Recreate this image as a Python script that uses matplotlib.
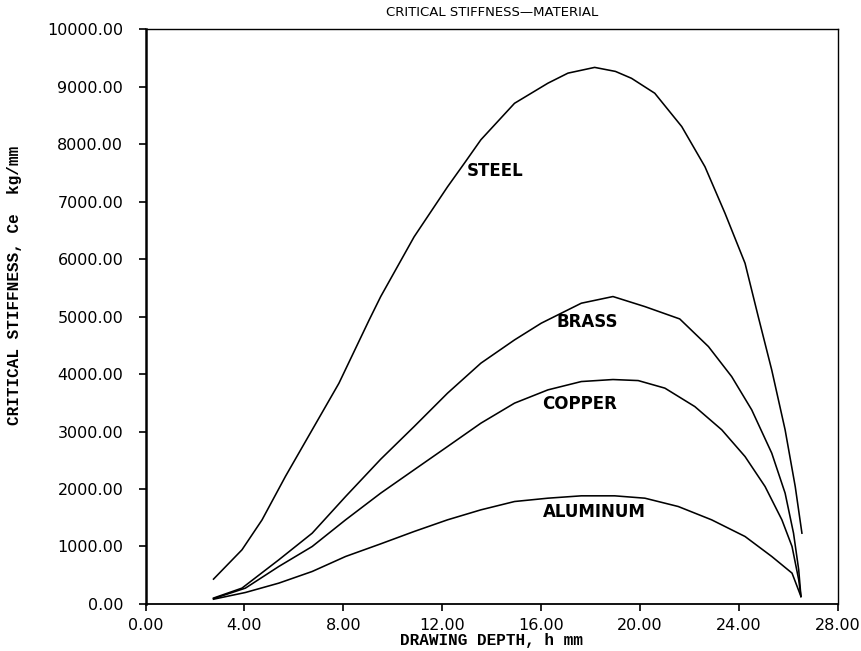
import matplotlib
matplotlib.use("Agg")
import matplotlib.pyplot as plt
from matplotlib.ticker import FixedLocator, FormatStrFormatter

# Critical stiffness vs drawing depth for four sheet materials
steel_h = [2.75, 3.90, 4.71, 5.66, 6.74, 7.82, 9.04, 9.51, 10.86, 12.21, 12.89,
           13.56, 14.92, 16.27, 17.08, 18.16, 19.00, 19.65, 20.59, 21.68, 22.62,
           23.43, 24.24, 24.78, 25.32, 25.86, 26.27, 26.54]
steel_c = [430, 940, 1460, 2220, 3030, 3840, 4940, 5350, 6390, 7260, 7670,
           8080, 8715, 9065, 9240, 9340, 9270, 9150, 8890, 8310, 7610,
           6800, 5930, 4990, 4070, 3030, 2040, 1230]

brass_h = [2.75, 3.90, 5.39, 6.74, 8.09, 9.51, 10.86, 12.21, 13.56, 14.92, 16.00,
           17.62, 18.90, 20.19, 21.60, 22.76, 23.70, 24.51, 25.32, 25.86, 26.20,
           26.41, 26.50]
brass_c = [100, 273, 766, 1230, 1868, 2518, 3086, 3667, 4190, 4595, 4886,
           5234, 5350, 5175, 4960, 4479, 3956, 3377, 2623, 1927, 1230,
           592, 128]

copper_h = [2.75, 4.04, 5.39, 6.74, 8.09, 9.51, 10.86, 12.21, 13.56, 14.92, 16.27,
            17.62, 18.90, 19.92, 21.00, 22.21, 23.30, 24.24, 25.05, 25.73, 26.14,
            26.41, 26.50]
copper_c = [90, 273, 650, 998, 1462, 1927, 2333, 2738, 3145, 3494, 3725,
            3870, 3905, 3887, 3755, 3434, 3029, 2564, 2042, 1462, 998,
            418, 128]

alum_h = [2.75, 4.04, 5.39, 6.74, 8.09, 9.51, 10.86, 12.21, 13.56, 14.92, 16.27,
          17.62, 18.97, 20.19, 21.54, 22.89, 24.24, 25.32, 26.14, 26.50]
alum_c = [80, 197, 360, 563, 824, 1044, 1259, 1462, 1636, 1781, 1839,
          1880, 1880, 1839, 1694, 1462, 1172, 824, 534, 128]

x_ticks = [0, 4, 8, 12, 16, 20, 24, 28]
y_ticks = [0, 1000, 2000, 3000, 4000, 5000, 6000, 7000, 8000, 9000, 10000]

labels = ["STEEL", "BRASS", "COPPER", "ALUMINUM"]
label_pos = [(13.0, 7530), (16.6, 4900), (16.05, 3480), (16.05, 1590)]

fig = plt.figure(figsize=(8.62, 6.51), dpi=100)
ax = fig.add_axes([0.1688, 0.0725, 0.8034, 0.8822])

for h, c in [(steel_h, steel_c), (brass_h, brass_c), (copper_h, copper_c), (alum_h, alum_c)]:
    ax.plot(h, c, color="black", lw=1.15, solid_joinstyle="round")

for text, (tx, ty) in zip(labels, label_pos):
    ax.text(tx, ty, text, ha="left", va="center", fontsize=12,
            fontweight="bold", family="DejaVu Sans")

ax.set_xlim(0, 28)
ax.set_ylim(0, 10000)
ax.xaxis.set_major_locator(FixedLocator(x_ticks))
ax.yaxis.set_major_locator(FixedLocator(y_ticks))
ax.xaxis.set_major_formatter(FormatStrFormatter("%.2f"))
ax.yaxis.set_major_formatter(FormatStrFormatter("%.2f"))

ax.tick_params(axis="both", direction="out", length=5, width=1.2, labelsize=11.5)
ax.tick_params(axis="y", pad=11)
ax.tick_params(axis="x", pad=5)

ax.spines["left"].set_linewidth(1.8)
ax.spines["bottom"].set_linewidth(1.3)
ax.spines["top"].set_linewidth(1.0)
ax.spines["right"].set_linewidth(1.0)

ax.set_xlabel("DRAWING DEPTH, h mm", family="Liberation Mono", fontweight="bold",
              fontsize=11.5, labelpad=0)
ax.set_ylabel("CRITICAL STIFFNESS, Ce  kg/mm", family="Liberation Mono",
              fontweight="bold", fontsize=11.5)
ax.yaxis.set_label_coords(-0.178, 0.555)
ax.set_title("CRITICAL STIFFNESS\u2014MATERIAL", fontsize=9.5, pad=10)

fig.savefig("out.png", dpi=100)
